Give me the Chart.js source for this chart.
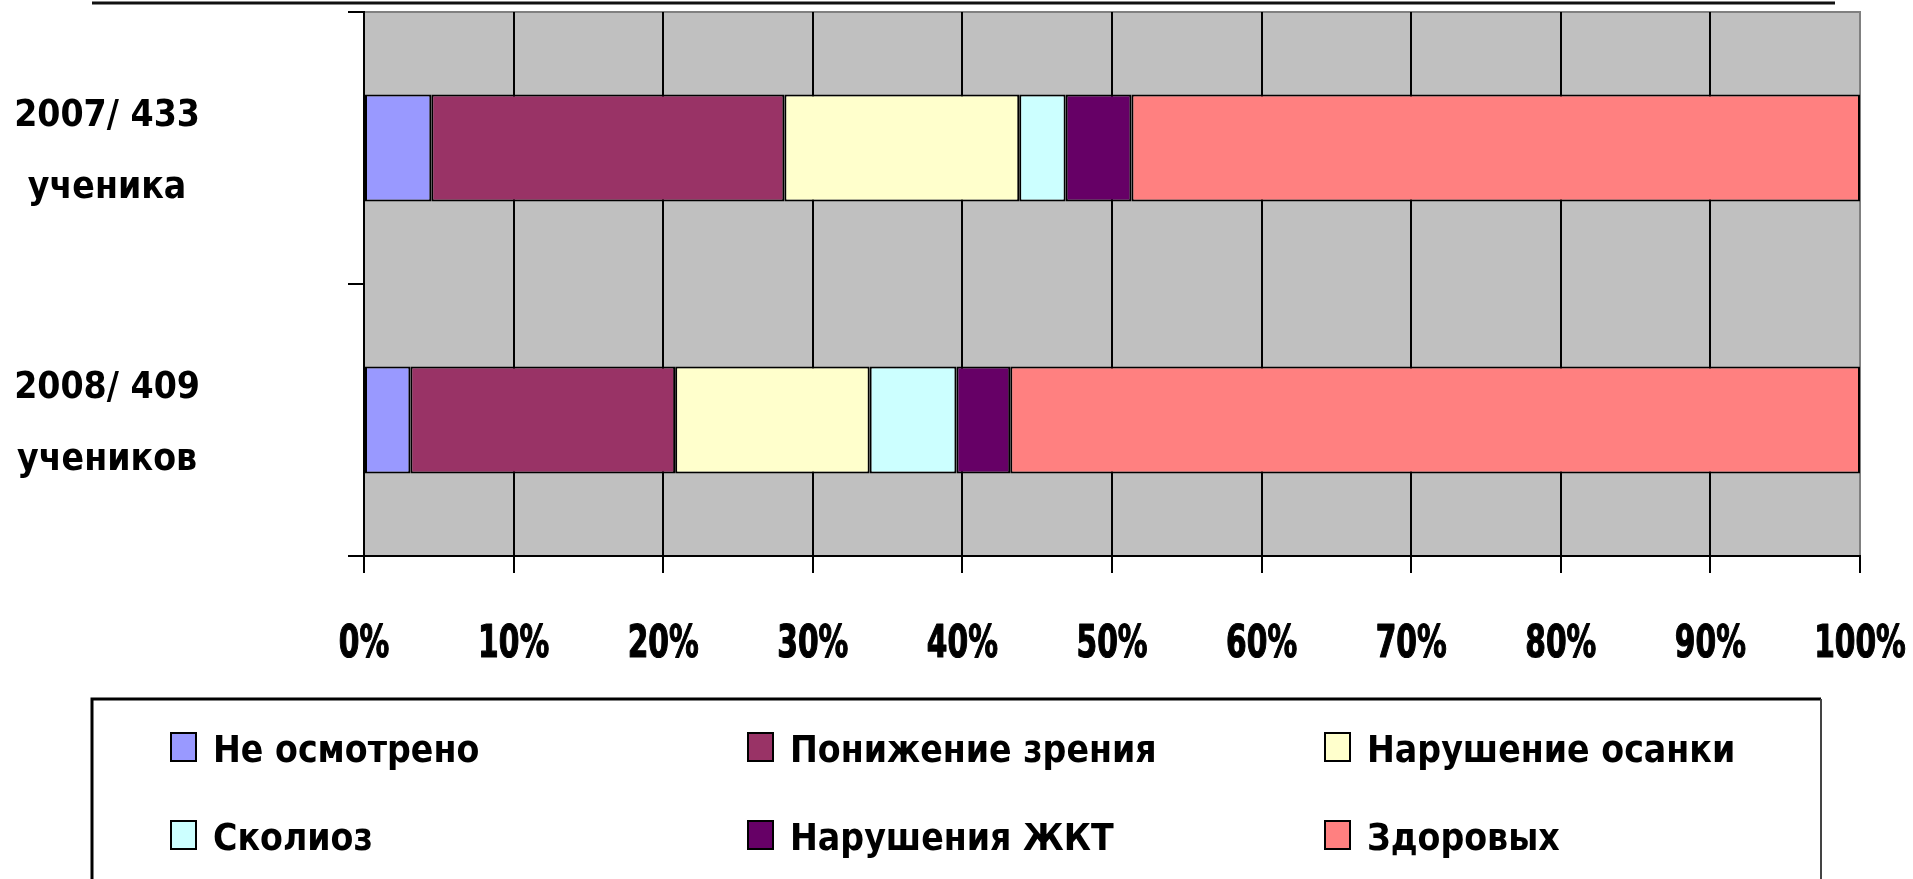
<!DOCTYPE html>
<html>
<head>
<meta charset="utf-8">
<script src="https://cdn.jsdelivr.net/npm/chart.js@4/dist/chart.umd.min.js"></script>
<style>
html,body{margin:0;padding:0;background:#fff;}
#wrap{width:1913px;height:879px;position:relative;}
</style>
</head>
<body>
<div id="wrap"><canvas id="c"></canvas></div>
<script>
// ---- data ----
const categories = [['2007/ 433', 'ученика'], ['2008/ 409', 'учеников']];
const seriesNames = ['Не осмотрено', 'Понижение зрения', 'Нарушение осанки', 'Сколиоз', 'Нарушения ЖКТ', 'Здоровых'];
const notExamined   = [4.5, 3.1];
const visionDecline = [23.6, 17.7];
const postureIssues = [15.7, 13.0];
const scoliosis     = [3.1, 5.8];
const digestive     = [4.4, 3.6];
const healthy       = [48.7, 56.8];
const xTickLabels = ['0%', '10%', '20%', '30%', '40%', '50%', '60%', '70%', '80%', '90%', '100%'];
const seriesColors = ['#9999FF', '#993366', '#FFFFCC', '#CCFFFF', '#660066', '#FF8080'];

const seriesValues = [notExamined, visionDecline, postureIssues, scoliosis, digestive, healthy];

const LABEL_FONT = '"DejaVu Sans Condensed", "DejaVu Sans", sans-serif';

const bgPlugin = {
  id: 'plotBg',
  beforeDraw(chart) {
    const {ctx, chartArea: a} = chart;
    ctx.save();
    ctx.fillStyle = '#C0C0C0';
    ctx.fillRect(a.left, a.top, a.right - a.left, a.bottom - a.top);
    ctx.strokeStyle = '#808080';
    ctx.lineWidth = 2;
    ctx.beginPath();
    ctx.moveTo(a.left, a.top);
    ctx.lineTo(a.right, a.top);
    ctx.lineTo(a.right, a.bottom);
    ctx.stroke();
    // top decorative line
    ctx.strokeStyle = '#111';
    ctx.lineWidth = 3;
    ctx.beginPath();
    ctx.moveTo(92, 3);
    ctx.lineTo(1835, 3);
    ctx.stroke();
    ctx.restore();
  }
};

// x tick labels drawn narrow (condensed) at the scale's own tick positions
const narrowTicksPlugin = {
  id: 'narrowTicks',
  afterDraw(chart) {
    const ctx = chart.ctx;
    const sx = chart.scales.x;
    ctx.save();
    ctx.fillStyle = '#000';
    ctx.strokeStyle = '#000';
    ctx.lineWidth = 1.2;
    ctx.lineJoin = 'round';
    ctx.font = 'bold 44px ' + LABEL_FONT;
    ctx.textAlign = 'center';
    ctx.textBaseline = 'alphabetic';
    const baseY = sx.bottom - 41;
    sx.ticks.forEach((t, i) => {
      const px = sx.getPixelForValue(t.value);
      ctx.save();
      ctx.translate(px, baseY);
      ctx.scale(0.75, 1);
      ctx.fillText(xTickLabels[i], 0, 0);
      ctx.strokeText(xTickLabels[i], 0, 0);
      ctx.restore();
    });
    ctx.restore();
  }
};

const legendPlugin = {
  id: 'gridLegend',
  afterDraw(chart) {
    const ctx = chart.ctx;
    ctx.save();
    // frame
    ctx.lineWidth = 3;
    ctx.strokeStyle = '#000';
    ctx.beginPath();
    ctx.moveTo(92, 890);
    ctx.lineTo(92, 699);
    ctx.lineTo(1821, 699);
    ctx.stroke();
    ctx.lineWidth = 2;
    ctx.strokeStyle = '#444';
    ctx.beginPath();
    ctx.moveTo(1821, 699);
    ctx.lineTo(1821, 890);
    ctx.stroke();
    const cols = [170, 747, 1324];
    const baselines = [762, 850];
    ctx.font = 'bold 37px ' + LABEL_FONT;
    ctx.textAlign = 'left';
    ctx.textBaseline = 'alphabetic';
    chart.data.datasets.forEach((ds, i) => {
      const x = cols[i % 3];
      const b = baselines[Math.floor(i / 3)];
      ctx.fillStyle = ds.backgroundColor;
      ctx.fillRect(x, b - 30, 27, 30);
      ctx.strokeStyle = '#000';
      ctx.lineWidth = 2;
      ctx.strokeRect(x + 1, b - 29, 25, 28);
      ctx.fillStyle = '#000';
      ctx.fillText(ds.label, x + 43, b);
    });
    ctx.restore();
  }
};

const datasets = seriesNames.map((name, i) => ({
  label: name,
  data: seriesValues[i],
  backgroundColor: seriesColors[i],
  borderColor: '#000',
  borderWidth: 2,
  borderSkipped: false,
  categoryPercentage: 1.0,
  barPercentage: 0.393
}));

new Chart(document.getElementById('c'), {
  type: 'bar',
  data: { labels: categories, datasets },
  plugins: [bgPlugin, narrowTicksPlugin, legendPlugin],
  options: {
    indexAxis: 'y',
    responsive: true,
    maintainAspectRatio: false,
    animation: false,
    layout: { padding: { top: 12, right: 53, bottom: 181, left: 0 } },
    plugins: { legend: { display: false }, tooltip: { enabled: false }, title: { display: false } },
    scales: {
      x: {
        stacked: true,
        min: 0, max: 100,
        afterFit(s) { s.height = 142; s.paddingLeft = 0; s.paddingRight = 0; },
        ticks: {
          stepSize: 10,
          display: false,
          autoSkip: false
        },
        grid: {
          color: (c) => (c.index === xTickLabels.length - 1 ? '#808080' : '#000'),
          tickColor: '#000',
          lineWidth: 2,
          tickLength: 17
        },
        border: { color: '#000', width: 2 }
      },
      y: {
        stacked: true,
        afterFit(s) { s.width = 364; s.paddingTop = 0; s.paddingBottom = 0; },
        ticks: {
          color: '#000',
          crossAlign: 'center',
          padding: 148,
          labelOffset: 4,
          font: { family: LABEL_FONT, size: 37, weight: 'bold', lineHeight: 1.95 }
        },
        grid: {
          offset: true,
          drawOnChartArea: false,
          color: '#000',
          lineWidth: 2,
          tickLength: 16
        },
        border: { color: '#000', width: 2 }
      }
    }
  }
});
</script>
</body>
</html>
